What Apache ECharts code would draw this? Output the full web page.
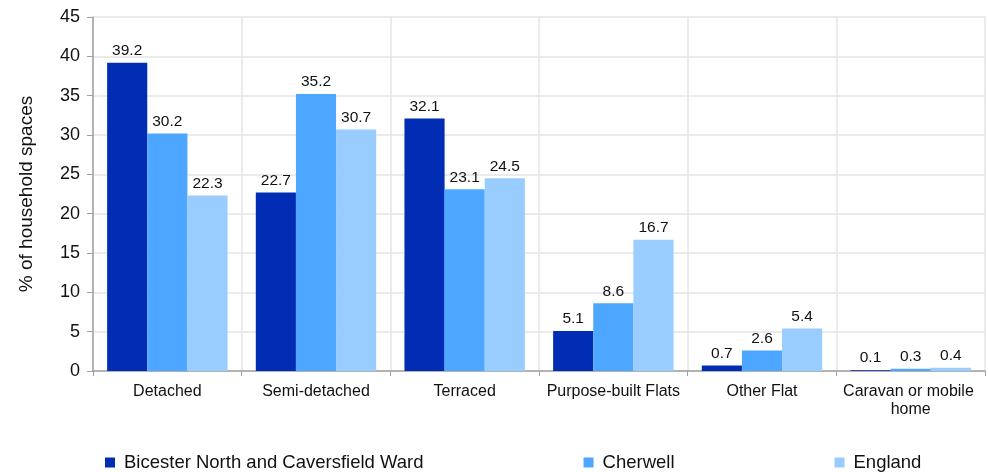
<!DOCTYPE html>
<html>
<head>
<meta charset="utf-8">
<script src="https://cdn.jsdelivr.net/npm/echarts@6/dist/echarts.min.js"></script>
<style>html,body{margin:0;padding:0;background:#fff}#c{width:988px;height:472px}</style>
</head>
<body>
<div id="c"></div>
<script>
const categories = ["Detached", "Semi-detached", "Terraced", "Purpose-built Flats", "Other Flat", "Caravan or mobile home"];
const seriesNames = ["Bicester North and Caversfield Ward", "Cherwell", "England"];
const bicester = [39.2, 22.7, 32.1, 5.1, 0.7, 0.1];
const cherwell = [30.2, 35.2, 23.1, 8.6, 2.6, 0.3];
const england = [22.3, 30.7, 24.5, 16.7, 5.4, 0.4];
const yTicks = { min: 0, max: 45, interval: 5 };
const yTitle = "% of household spaces";

const colors = ["#002DB3", "#4DA6FF", "#99CCFF"];
const FONT = "Liberation Sans";
const chart = echarts.init(document.getElementById('c'), null, { renderer: 'canvas' });

function mk(name, data, color) {
  return {
    name: name, type: 'bar', data: data,
    barGap: '0%', barCategoryGap: '19%',
    itemStyle: { color: color },
    label: { show: true, position: 'top', distance: 4, color: '#111', fontFamily: FONT, fontSize: 15.5 },
    animation: false
  };
}

chart.setOption({
  animation: false,
  textStyle: { fontFamily: FONT },
  grid: { left: 93, right: 3, top: 17, bottom: 101, containLabel: false },
  legend: {
    left: 100, top: 448, itemGap: 160, itemWidth: 10, itemHeight: 10,
    icon: 'rect',
    textStyle: { fontFamily: FONT, fontSize: 18.5, color: '#111', padding: [0, 0, 0, 4] },
    data: seriesNames
  },
  xAxis: {
    type: 'category', data: categories,
    axisLine: { lineStyle: { color: '#a0a0a0', width: 1.5 } },
    axisTick: { show: true, interval: 0, length: 5, lineStyle: { color: '#a0a0a0' } },
    splitLine: { show: true, interval: 0, lineStyle: { color: '#e4e4e4', width: 1.5 } },
    axisLabel: { interval: 0, margin: 12, fontFamily: FONT, fontSize: 16, color: '#111', width: 145, overflow: 'break', lineHeight: 18 }
  },
  yAxis: {
    type: 'value', min: yTicks.min, max: yTicks.max, interval: yTicks.interval,
    name: yTitle, nameLocation: 'middle', nameGap: 57,
    nameTextStyle: { fontFamily: FONT, fontSize: 19, color: '#111' },
    axisLine: { show: true, lineStyle: { color: '#a0a0a0', width: 1.5 } },
    axisTick: { show: true, length: 6, lineStyle: { color: '#a0a0a0' } },
    splitLine: { show: true, lineStyle: { color: '#e4e4e4', width: 1.5 } },
    axisLabel: { margin: 13, fontFamily: FONT, fontSize: 18, color: '#111' }
  },
  series: [
    mk(seriesNames[0], bicester, colors[0]),
    mk(seriesNames[1], cherwell, colors[1]),
    mk(seriesNames[2], england, colors[2])
  ]
});
</script>
</body>
</html>
